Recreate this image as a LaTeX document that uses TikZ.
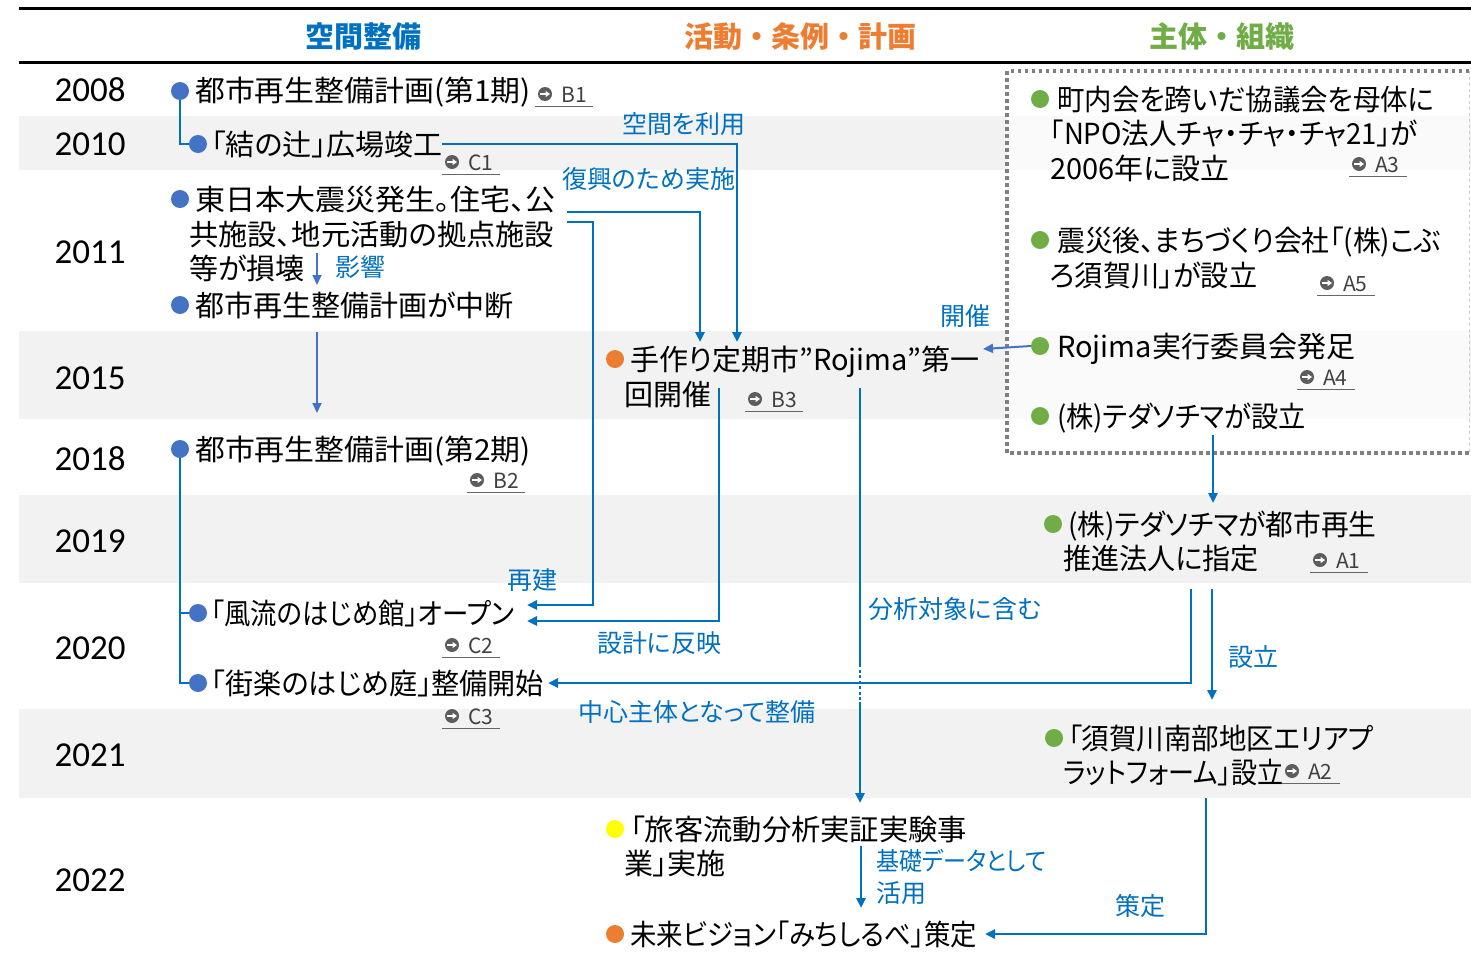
\documentclass[tikz,border=0pt]{standalone}
\usepackage{graphicx}
\usepackage{fontspec}
\setmainfont{Noto Sans CJK JP}[RawFeature={+palt}]
\newfontfamily\jpfull{Noto Sans CJK JP}
\newfontfamily\yearfont{Carlito}
\usetikzlibrary{arrows.meta}
\definecolor{cblue}{HTML}{0070C0}
\definecolor{dblue}{HTML}{4472C4}
\definecolor{corange}{HTML}{ED7D31}
\definecolor{cgreen}{HTML}{70AD47}
\definecolor{cyellow}{HTML}{FFFF00}
\definecolor{band}{HTML}{F2F2F2}
\definecolor{refgray}{HTML}{404040}
\definecolor{boxgray}{HTML}{808080}
\newcommand{\xsc}[2]{\scalebox{#1}[1]{#2}}
\begin{document}
\begin{tikzpicture}[x=1pt,y=-1pt,
 txt/.style={anchor=base west, inner sep=0pt, font=\fontsize{29}{34}\selectfont},
 lbl/.style={anchor=base west, inner sep=0pt, text=cblue, font=\fontsize{25}{30}\selectfont},
 yr/.style={inner sep=0pt, font=\yearfont\fontsize{35}{40}\selectfont},
 hdr/.style={inner sep=0pt, font=\jpfull\bfseries\fontsize{29}{34}\selectfont},
 dot/.style={circle, fill=#1, minimum size=18pt, inner sep=0pt},
 icon/.style={circle, fill=refgray!85, minimum size=14pt, inner sep=0pt},
 refnode/.style={anchor=west, inner sep=0pt, text=refgray, font=\fontsize{21}{24}\selectfont},
 refline/.style={draw=refgray!80, line width=1.3pt},
 conn/.style={draw=cblue, line width=2.5pt},
 arr/.style={conn, -{Triangle[length=10pt,width=9pt]}},
 darr/.style={draw=dblue, line width=2pt, -{Triangle[length=10pt,width=9pt]}},
]
\useasboundingbox (0,0) rectangle (1471,969);
% bands
\fill[band] (19,116) rectangle (1471,170);
\fill[band] (19,331) rectangle (1471,419);
\fill[band] (19,495) rectangle (1471,583);
\fill[band] (19,709) rectangle (1471,798);
\fill[white, opacity=0.65] (1007,71) rectangle (1469,453);
% rules
\draw[line width=3pt] (19,8) -- (1471,8);
\draw[line width=3pt] (19,62) -- (1471,62);
% dotted box
\draw[boxgray, line width=3.5pt, dash pattern=on 3.5pt off 3.5pt] (1469,71) -- (1007,71) -- (1007,453) -- (1469,453);
\draw[boxgray!40, line width=1pt, dashed] (1469,71) -- (1469,453);
% headers
\node[hdr, text=cblue] (h1) at (363,37) {空間整備};
\node[hdr, text=corange] (h2) at (800,37) {活動・条例・計画};
\node[hdr, text=cgreen] (h3) at (1222,37) {主体・組織};
% years
\node[yr] (y08) at (90,90) {2008};
\node[yr] (y10) at (90,144) {2010};
\node[yr] (y11) at (90,252) {2011};
\node[yr] (y15) at (90,378) {2015};
\node[yr] (y18) at (90,459) {2018};
\node[yr] (y19) at (90,541) {2019};
\node[yr] (y20) at (90,648) {2020};
\node[yr] (y21) at (90,755) {2021};
\node[yr] (y22) at (90,880) {2022};
% bullet positions
\coordinate (pb1) at (180,91);
\coordinate (pc1) at (198,144);
\coordinate (pe1) at (180,199);
\coordinate (pe2) at (180,305);
\coordinate (pb2) at (180,449);
\coordinate (pc2) at (198,613);
\coordinate (pc3) at (198,683);
% connector end points
\coordinate (c1o) at (442,144);
\coordinate (e1o1) at (567,212);
\coordinate (e1o2) at (567,222);
\coordinate (b3i1) at (700,342);
\coordinate (b3i2) at (737,342);
\coordinate (b3o1) at (719,388);
\coordinate (b3o2) at (860,388);
\coordinate (c2i1) at (527,605);
\coordinate (c2i2) at (527,621);
\coordinate (c3i) at (548,683);
\coordinate (a1o1) at (1191,589);
\coordinate (a1o2) at (1212,589);
\coordinate (a2i) at (1212,700);
\coordinate (yi) at (860,803);
\coordinate (xa) at (860,664);
\coordinate (xb) at (860,702);
\coordinate (b3i3) at (983,349);
\coordinate (t1o) at (1213,435);
\coordinate (a1i) at (1213,503);
\coordinate (a2o) at (1206,798);
\coordinate (vi) at (985,934);
\coordinate (yo) at (861,846);
\coordinate (vi2) at (861,908);
\coordinate (e1o3) at (317,253);
\coordinate (e2i) at (317,285);
\coordinate (e2o) at (317,332);
\coordinate (b2i) at (317,413);
% left column links
\draw[conn] (pb1) |- (pc1);
\draw[conn] (pb2) |- (pc2);
\draw[conn] (pb2) |- (pc3);
\draw[darr] (e1o3) -- (e2i);
\draw[darr] (e2o) -- (b2i);
% connectors
\draw[arr] (c1o) -| (b3i2);
\draw[arr] (e1o1) -| (b3i1);
\draw[arr] (e1o2) -| (593,605) -- (c2i1);
\draw[arr] (b3o1) |- (c2i2);
\draw[conn] (b3o2) -- (xa);
\draw[conn, dash pattern=on 3pt off 2.5pt] (xa) -- (xb);
\draw[arr] (xb) -- (yi);
\draw[arr] (a1o1) |- (c3i);
\draw[arr] (a1o2) -- (a2i);
\draw[arr] (t1o) -- (a1i);
\draw[arr] (a2o) |- (vi);
\draw[arr] (yo) -- (vi2);
% bullets
\node[dot=dblue] (b1d) at (pb1) {};
\node[dot=dblue] (c1d) at (pc1) {};
\node[dot=dblue] (e1d) at (pe1) {};
\node[dot=dblue] (e2d) at (pe2) {};
\node[dot=dblue] (b2d) at (pb2) {};
\node[dot=dblue] (c2d) at (pc2) {};
\node[dot=dblue] (c3d) at (pc3) {};
\node[dot=corange] (b3d) at (615,359) {};
\node[dot=cyellow] (yd) at (615,829) {};
\node[dot=corange] (vd) at (615,934) {};
\node[dot=cgreen] (a3d) at (1040,99) {};
\node[dot=cgreen] (a5d) at (1040,240) {};
\node[dot=cgreen] (a4d) at (1040,346) {};
\node[dot=cgreen] (t1d) at (1040,416) {};
\node[dot=cgreen] (a1d) at (1053,524) {};
\node[dot=cgreen] (a2d) at (1054,738) {};
\draw[darr] (a4d.west) -- (b3i3);
% texts
\node[txt] (b1) at (195,101) {\xsc{1.03}{都市再生整備計画(第1期)}};
\node[txt] (c1) at (211,155) {「結の辻」広場竣工};
\node[txt] (e1a) at (195,210) {\xsc{1.035}{東日本大震災発生。住宅、公}};
\node[txt] (e1b) at (189,245) {\xsc{1.01}{共施設、地元活動の拠点施設}};
\node[txt] (e1c) at (189,279) {等が損壊};
\node[txt] (e2) at (195,316) {都市再生整備計画が中断};
\node[txt] (b2) at (195,460) {\xsc{1.03}{都市再生整備計画(第2期)}};
\node[txt] (c2) at (211,624) {\xsc{0.91}{「風流のはじめ館」オープン}};
\node[txt] (c3) at (211,694) {\xsc{0.97}{「街楽のはじめ庭」整備開始}};
\node[txt] (b3a) at (630,370) {手作り定期市”Rojima”第一};
\node[txt] (b3b) at (624,405) {回開催};
\node[txt] (ya) at (630,840) {\xsc{1.01}{「旅客流動分析実証実験事}};
\node[txt] (yb) at (624,874) {業」実施};
\node[txt] (v) at (630,945) {\xsc{0.91}{未来ビジョン「みちしるべ」策定}};
\node[txt] (a3a) at (1057,110) {\xsc{0.945}{町内会を跨いだ協議会を母体に}};
\node[txt] (a3b) at (1050,144) {\xsc{0.95}{「NPO法人チャ・チャ・チャ21」が}};
\node[txt] (a3c) at (1050,179) {2006年に設立};
\node[txt] (a5a) at (1057,251) {\xsc{0.96}{震災後、まちづくり会社「(株)こぶ}};
\node[txt] (a5b) at (1050,286) {\xsc{0.97}{ろ須賀川」が設立}};
\node[txt] (a4) at (1057,357) {Rojima実行委員会発足};
\node[txt] (t1) at (1057,427) {\xsc{0.94}{(株)テダソチマが設立}};
\node[txt] (a1a) at (1068,535) {\xsc{0.957}{(株)テダソチマが都市再生}};
\node[txt] (a1b) at (1063,569) {\xsc{0.97}{推進法人に指定}};
\node[txt] (a2a) at (1068,749) {\xsc{0.947}{「須賀川南部地区エリアプ}};
\node[txt] (a2b) at (1063,783) {\xsc{0.9}{ラットフォーム」設立}};
% labels
\node[lbl] (l1) at (622,133.5) {空間を利用};
\node[lbl] (l2) at (562,188.5) {復興のため実施};
\node[lbl] (l3) at (335,276.5) {影響};
\node[lbl] (l4) at (507,589.5) {再建};
\node[lbl] (l5) at (597,652.5) {設計に反映};
\node[lbl] (l6) at (868,618.5) {分析対象に含む};
\node[lbl] (l7) at (578,721.5) {中心主体となって整備};
\node[lbl] (l8) at (1228,666.5) {設立};
\node[lbl] (l9) at (940,325.5) {開催};
\node[lbl] (l10) at (876,870.5) {\xsc{0.92}{基礎データとして}};
\node[lbl] (l11) at (876,902.5) {活用};
\node[lbl] (l12) at (1115,915.5) {策定};
% references
\foreach \nm/\tx/\px/\py in {rb1/B1/538/95, rc1/C1/445/163, rb2/B2/470/481, rc2/C2/445/646, rc3/C3/445/717, rb3/B3/748/400, ra3/A3/1352/165, ra5/A5/1320/284, ra4/A4/1300/378, ra1/A1/1313/561, ra2/A2/1285/772}{
  \node[icon] (\nm-i) at (\px+7,\py-1) {};
  \draw[white, line width=1.6pt, -{Triangle[length=4.5pt,width=6pt]}] ([xshift=-5pt]\nm-i.center) -- ([xshift=5pt]\nm-i.center);
  \node[refnode] (\nm) at (\px+23,\py) {\tx};
  \draw[refline] (\px-3,\py+11.5) -- (\px+55,\py+11.5);
}
\end{tikzpicture}
\end{document}
